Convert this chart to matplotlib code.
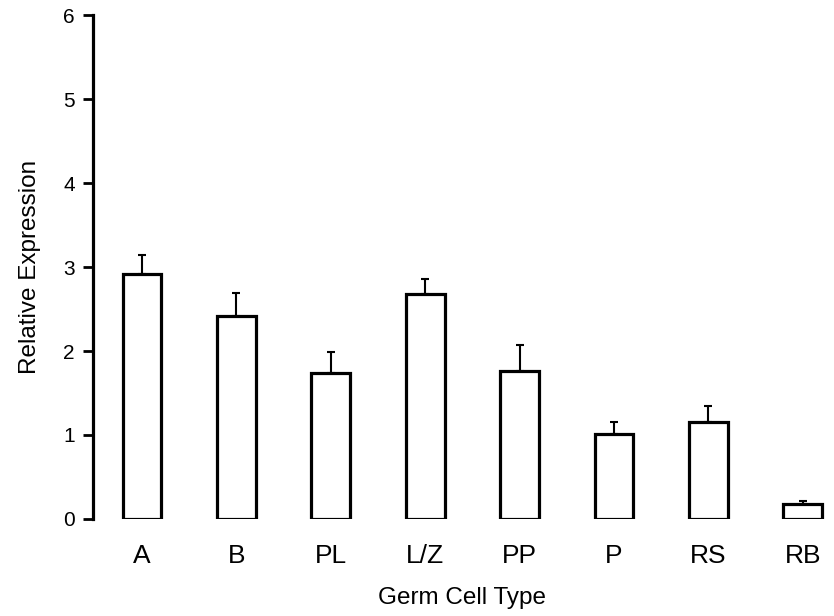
import numpy as np
import matplotlib
matplotlib.use("Agg")
import matplotlib.pyplot as plt

# values
cell_types = ["A", "B", "PL", "L/Z", "PP", "P", "RS", "RB"]
expression = [2.92, 2.42, 1.74, 2.68, 1.76, 1.01, 1.15, 0.18]
err_upper  = [0.22, 0.27, 0.25, 0.18, 0.31, 0.14, 0.20, 0.03]

plt.rcParams['font.family'] = ['Liberation Sans', 'DejaVu Sans']

fig = plt.figure(figsize=(8.34, 6.16), dpi=100)
ax = fig.add_axes([0.1115, 0.1575, 0.885, 0.818])

x = np.arange(len(cell_types))
ax.bar(x, expression, width=0.41, color='white', edgecolor='black', linewidth=2.3, zorder=2)
ax.errorbar(x, expression, yerr=[np.zeros(len(err_upper)), err_upper], fmt='none',
            ecolor='black', elinewidth=1.5, capsize=3, capthick=1.5, zorder=1)

ax.set_xlim(-0.52, 7.3)
ax.set_ylim(0, 6)
ax.set_yticks(range(0, 7))
ax.set_xticks(x)
ax.set_xticklabels(cell_types, fontsize=19)

for s in ['top', 'right', 'bottom']:
    ax.spines[s].set_visible(False)
ax.spines['left'].set_linewidth(2.3)
ax.tick_params(axis='y', length=7, width=2, labelsize=15, pad=6)
ax.tick_params(axis='x', length=0, pad=18)

ax.set_xlabel("Germ Cell Type", fontsize=17.5, labelpad=14)
ax.set_ylabel("Relative Expression", fontsize=17.5, labelpad=16)

fig.savefig("out.png", dpi=100)
